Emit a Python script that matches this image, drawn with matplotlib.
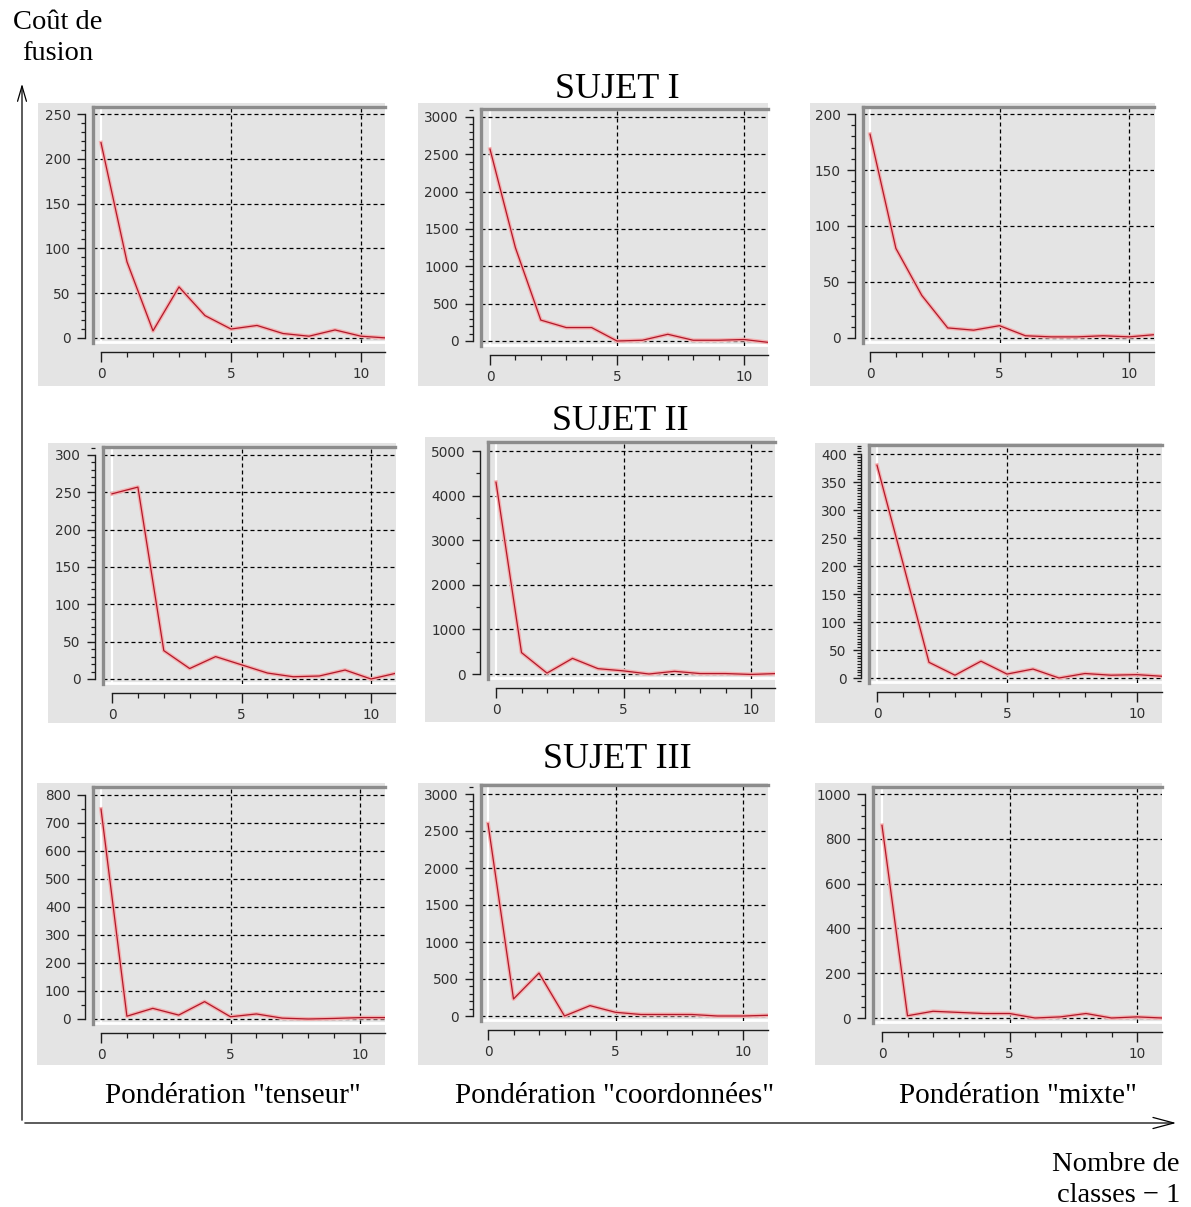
import matplotlib
matplotlib.use('Agg')
import matplotlib.pyplot as plt
from matplotlib.ticker import MultipleLocator, FixedLocator
from matplotlib.patches import Rectangle, FancyArrowPatch

W, H = 1191, 1207

# ---------------- data ----------------
x_classes = list(range(12))
s1_tenseur = [218, 85, 8, 57, 25, 10, 14, 5, 2, 9, 2, 0]
s1_coord = [2570, 1250, 280, 180, 180, 0, 10, 90, 10, 10, 20, -20]
s1_mixte = [182, 80, 38, 9, 7, 11, 2, 1, 1, 2, 1, 3]
s2_tenseur = [248, 257, 38, 14, 30, 19, 8, 3, 4, 12, 0, 8]
s2_coord = [4300, 480, 20, 350, 120, 70, 0, 60, 10, 10, -10, 10]
s2_mixte = [380, 205, 28, 5, 30, 7, 16, 0, 8, 5, 6, 3]
s3_tenseur = [750, 10, 38, 14, 62, 8, 18, 3, 0, 2, 5, 5]
s3_coord = [2600, 230, 580, 0, 140, 50, 20, 20, 20, 0, 0, 10]
s3_mixte = [860, 10, 30, 25, 20, 20, 0, 5, 20, 0, 5, 0]

series = [s1_tenseur, s1_coord, s1_mixte,
          s2_tenseur, s2_coord, s2_mixte,
          s3_tenseur, s3_coord, s3_mixte]
y_top_tick = [250, 3000, 200, 300, 5000, 400, 800, 3000, 1000]
y_major_step = [50, 500, 50, 50, 1000, 50, 100, 500, 200]
y_minor_step = [10, 100, 10, 10, 500, 5, 50, 100, 50]
x_major_ticks = [0, 5, 10]

subject_titles = ["SUJET I", "SUJET II", "SUJET III"]
weighting_labels = ['Pondération "tenseur"', 'Pondération "coordonnées"', 'Pondération "mixte"']

# ---------------- layout (pixels) ----------------
# plot area: left, top, right ; y px of value 0, px of top tick ; px of x=0 and x=10
plot_px = [
    (93, 107, 385, 338, 114, 101, 361),
    (481, 109, 768, 341, 117, 490, 744),
    (863, 107, 1154, 338, 114, 870, 1129),
    (103, 447, 395, 679, 455, 112, 371),
    (488, 442, 775, 674, 451, 496, 751),
    (869, 445, 1162, 678, 454, 877, 1137),
    (93, 787, 385, 1019, 795, 101, 360),
    (481, 785, 768, 1016, 794, 488, 743),
    (873, 787, 1162, 1018, 794, 882, 1137),
]
bg_px = [
    (38, 103, 385, 386), (418, 103, 768, 386), (810, 103, 1155, 386),
    (48, 443, 396, 723), (425, 437, 775, 722), (815, 443, 1162, 723),
    (37, 783, 385, 1065), (418, 783, 768, 1065), (815, 783, 1162, 1065),
]

BG = '#e4e4e4'
BORDER = '#8c8c8c'
INK = '#1e1e1e'

fig = plt.figure(figsize=(W / 100, H / 100), dpi=100)
fig.patch.set_facecolor('white')


def fx(x):
    return x / W


def fy(y):
    return 1 - y / H


for i in range(9):
    left, top, right, y0, ytp, x0p, x10p = plot_px[i]
    bottom = y0 + 5
    bx0, by0, bx1, by1 = bg_px[i]
    fig.add_artist(Rectangle((fx(bx0), fy(by1)), (bx1 - bx0) / W, (by1 - by0) / H,
                             transform=fig.transFigure, facecolor=BG,
                             edgecolor='none', zorder=-5))
    ax = fig.add_axes([fx(left), fy(bottom), (right - left) / W, (bottom - top) / H])
    ax.set_facecolor(BG)
    sx = (x10p - x0p) / 10.0
    sy = (y0 - ytp) / y_top_tick[i]
    xlim = ((left - x0p) / sx, (right - x0p) / sx)
    ylim = ((y0 - bottom) / sy, (y0 - top) / sy)
    ax.set_xlim(xlim)
    ax.set_ylim(ylim)

    # gray plot border (left and top)
    ax.plot([0, 0], [0, 1], transform=ax.transAxes, color=BORDER, lw=2.4, clip_on=False, zorder=6)
    ax.plot([0, 1], [1, 1], transform=ax.transAxes, color=BORDER, lw=2.4, clip_on=False, zorder=6)

    # white highlight lines
    ax.axvline(0, color='white', lw=1.6, zorder=1)
    ax.plot([0, 1], [0.004, 0.004], transform=ax.transAxes, color='white', lw=2, zorder=1, clip_on=False)

    # grid
    for yv in range(0, y_top_tick[i] + 1, y_major_step[i]):
        ax.axhline(yv, color='black', lw=0.9, ls=(0, (3.2, 2.4)), zorder=2)
    for xv in x_major_ticks[1:]:
        ax.axvline(xv, color='black', lw=0.9, ls=(0, (3.2, 2.4)), zorder=2)

    # data
    ax.plot(x_classes, series[i], color='#f4b0b0', lw=2.8, zorder=3, solid_joinstyle='round')
    ax.plot(x_classes, series[i], color='#b0182a', lw=0.9, zorder=4)

    # ticks
    ax.yaxis.set_major_locator(MultipleLocator(y_major_step[i]))
    ax.yaxis.set_minor_locator(MultipleLocator(y_minor_step[i]))
    ax.xaxis.set_major_locator(FixedLocator(x_major_ticks))
    ax.xaxis.set_minor_locator(MultipleLocator(1))
    ax.tick_params(axis='y', which='major', direction='out', length=5.5, width=1.0,
                   color=INK, labelsize=9.8, labelcolor='#303030', pad=5)
    ax.tick_params(axis='y', which='minor', direction='out', length=2.6, width=0.9, color=INK)
    ax.tick_params(axis='x', which='major', direction='out', length=7, width=1.0,
                   color=INK, labelsize=9.8, labelcolor='#303030', pad=4)
    ax.tick_params(axis='x', which='minor', direction='out', length=3.5, width=0.9, color=INK)

    ax.spines['top'].set_visible(False)
    ax.spines['right'].set_visible(False)
    ax.spines['left'].set_position(('outward', 5.5))
    ax.spines['left'].set_bounds(0, y_top_tick[i])
    ax.spines['left'].set_color(INK)
    ax.spines['left'].set_linewidth(1.0)
    ax.spines['bottom'].set_position(('outward', 6.5))
    ax.spines['bottom'].set_bounds(0, xlim[1])
    ax.spines['bottom'].set_color(INK)
    ax.spines['bottom'].set_linewidth(1.0)

# ---------------- texts ----------------
serif = 'Liberation Serif'
title_pos = [(617, 90), (620, 422), (617, 760)]
for t, (px, py) in zip(subject_titles, title_pos):
    fig.text(fx(px), fy(py), t, ha='center', va='center', fontsize=26, family=serif)

wl_pos = [(233, 1096), (615, 1096), (1018, 1096)]
for t, (px, py) in zip(weighting_labels, wl_pos):
    fig.text(fx(px), fy(py), t, ha='center', va='center', fontsize=21, family=serif)

fig.text(fx(58), fy(38), 'Coût de\nfusion', ha='center', va='center', fontsize=20.5,
         family=serif, linespacing=1.3)
fig.text(fx(1180), fy(1180), 'Nombre de\nclasses \u2212 1', ha='right', va='center', fontsize=20.5,
         family=serif, linespacing=1.3)

# ---------------- big axes arrows ----------------
fig.add_artist(FancyArrowPatch((fx(22), fy(1123)), (fx(22), fy(81)),
                               transform=fig.transFigure, arrowstyle='->,head_length=11,head_width=3.2',
                               color='black', lw=0.9, mutation_scale=1))
fig.add_artist(FancyArrowPatch((fx(22), fy(1123)), (fx(1179), fy(1123)),
                               transform=fig.transFigure, arrowstyle='->,head_length=15,head_width=4',
                               color='black', lw=0.9, mutation_scale=1))

fig.savefig('out.png', dpi=100, facecolor='white')
